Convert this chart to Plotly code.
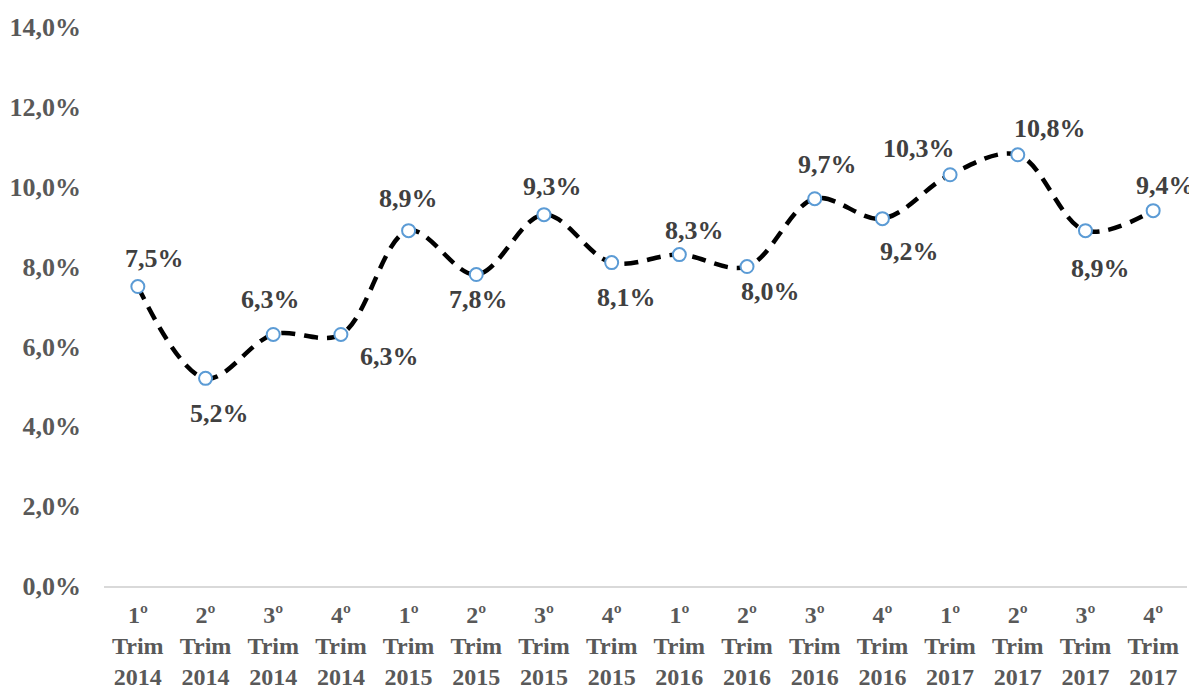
import plotly.graph_objects as go

categories = ["1º<br>Trim<br>2014", "2º<br>Trim<br>2014", "3º<br>Trim<br>2014", "4º<br>Trim<br>2014",
              "1º<br>Trim<br>2015", "2º<br>Trim<br>2015", "3º<br>Trim<br>2015", "4º<br>Trim<br>2015",
              "1º<br>Trim<br>2016", "2º<br>Trim<br>2016", "3º<br>Trim<br>2016", "4º<br>Trim<br>2016",
              "1º<br>Trim<br>2017", "2º<br>Trim<br>2017", "3º<br>Trim<br>2017", "4º<br>Trim<br>2017"]
values = [7.5, 5.2, 6.3, 6.3, 8.9, 7.8, 9.3, 8.1, 8.3, 8.0, 9.7, 9.2, 10.3, 10.8, 8.9, 9.4]
labels = ["7,5%", "5,2%", "6,3%", "6,3%", "8,9%", "7,8%", "9,3%", "8,1%",
          "8,3%", "8,0%", "9,7%", "9,2%", "10,3%", "10,8%", "8,9%", "9,4%"]
# label offsets (pixels) relative to each point
label_dx = [17, 14, -3, 49, 0, 2, 9, 15, 15, 23, 13, 27, -31, 32, 15, 12]
label_dy = [28, -35, 35, -22, 32, -25, 28, -35, 24, -25, 34, -33, 26, 26, -38, 25]

y_ticks = [0, 2, 4, 6, 8, 10, 12, 14]
y_ticktext = ["0,0%", "2,0%", "4,0%", "6,0%", "8,0%", "10,0%", "12,0%", "14,0%"]

FONT = "Liberation Serif"

fig = go.Figure()
fig.add_trace(go.Scatter(
    x=categories, y=values, mode="lines+markers",
    line=dict(color="black", width=4.5, dash="14px,9px", shape="spline", smoothing=1.0),
    marker=dict(size=13, color="white", line=dict(color="#5B9BD5", width=2)),
    hoverinfo="skip", showlegend=False,
))

for c, v, t, dx, dy in zip(categories, values, labels, label_dx, label_dy):
    fig.add_annotation(x=c, y=v, text=f"<b>{t}</b>", showarrow=False,
                       xshift=dx, yshift=dy,
                       font=dict(family=FONT, size=26, color="#404040"))

# page has an 8px body margin, so the figure is sized/offset to compensate
fig.update_layout(
    width=1189, height=681,
    margin=dict(l=96, r=10, t=19, b=103),
    plot_bgcolor="white", paper_bgcolor="white",
    font=dict(family=FONT, size=24, color="#595959"),
)
fig.update_xaxes(
    type="category", showgrid=False, zeroline=False, automargin=False,
    showline=True, linecolor="#d9d9d9", linewidth=1.5,
    tickfont=dict(family=FONT, size=24, color="#595959", weight="bold"),
    ticks="", range=[-0.5, 15.5], ticklabelstandoff=6,
)
fig.update_yaxes(
    range=[0, 14], tickvals=y_ticks, ticktext=y_ticktext, automargin=False,
    showgrid=False, zeroline=False, showline=False, ticks="",
    tickfont=dict(family=FONT, size=26, color="#595959", weight="bold"),
    ticklabelstandoff=22,
)

fig.write_html("out.html")
